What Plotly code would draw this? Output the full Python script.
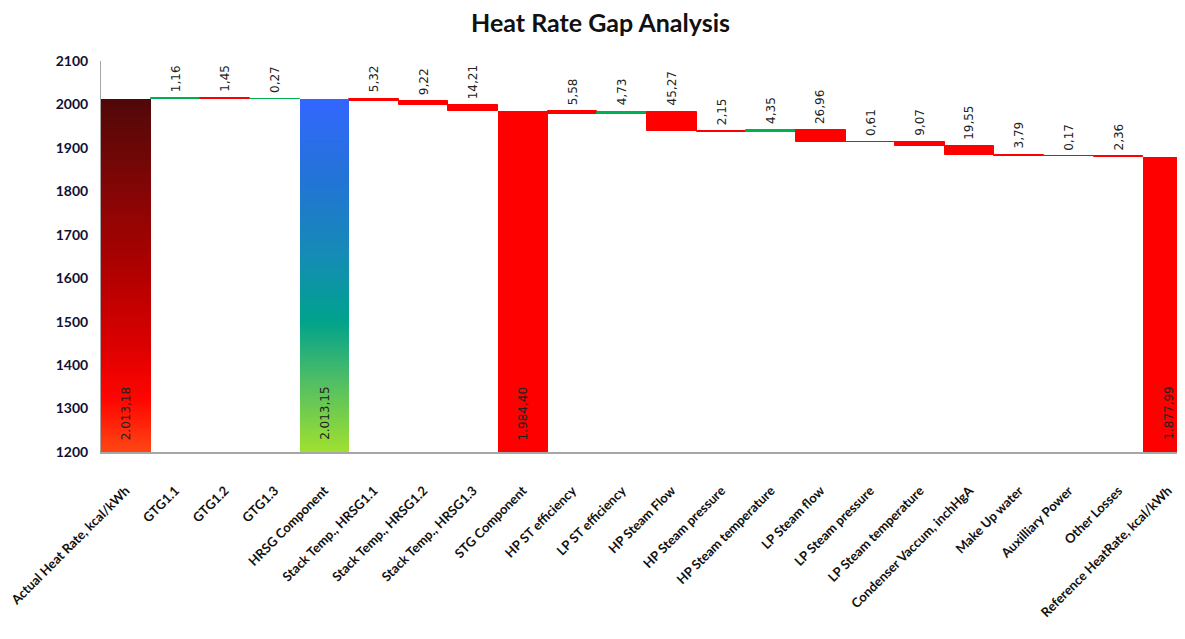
import plotly.graph_objects as go

categories = ["Actual Heat Rate, kcal/kWh", "GTG1.1", "GTG1.2", "GTG1.3", "HRSG Component",
              "Stack Temp., HRSG1.1", "Stack Temp., HRSG1.2", "Stack Temp., HRSG1.3", "STG Component",
              "HP ST efficiency", "LP ST efficiency", "HP Steam Flow", "HP Steam pressure",
              "HP Steam temperature", "LP Steam flow", "LP Steam pressure", "LP Steam temperature",
              "Condenser Vaccum, inchHgA", "Make Up water", "Auxilliary Power", "Other Losses",
              "Reference HeatRate, kcal/kWh"]
# signed change per step (+ increase drawn green, - decrease drawn red); None = total bar
changes = [None, 1.16, -1.45, 0.27, None, -5.32, -9.22, -14.21, None,
           -5.58, 4.73, -45.27, -2.15, 4.35, -26.96, -0.61, -9.07, -19.55, -3.79, -0.17, -2.36, None]
totals = {0: 2013.18, 4: 2013.15, 8: 1984.40, 21: 1877.99}
labels = ["2.013,18", "1,16", "1,45", "0,27", "2.013,15", "5,32", "9,22", "14,21", "1.984,40",
          "5,58", "4,73", "45,27", "2,15", "4,35", "26,96", "0,61", "9,07", "19,55", "3,79",
          "0,17", "2,36", "1.877,99"]

# gradient stops (fraction from bottom, colour)
grad_actual = [(0.0, (255, 70, 20)), (0.15, (255, 5, 0)), (0.3, (220, 0, 0)),
               (0.5, (178, 0, 0)), (0.75, (130, 6, 6)), (1.0, (80, 8, 8))]
grad_hrsg = [(0.0, (160, 224, 48)), (0.2, (80, 190, 100)), (0.37, (0, 162, 140)),
             (0.55, (20, 140, 180)), (0.78, (35, 115, 215)), (1.0, (51, 102, 255))]
gradients = {0: grad_actual, 4: grad_hrsg}

AX_MIN, AX_MAX = 1200, 2100
RED, GREEN = "#ff0000", "#00b050"


def interp(stops, t):
    for (t0, c0), (t1, c1) in zip(stops[:-1], stops[1:]):
        if t0 <= t <= t1:
            f = (t - t0) / (t1 - t0) if t1 > t0 else 0
            return "rgb(%d,%d,%d)" % tuple(round(a + (b - a) * f) for a, b in zip(c0, c1))
    return "rgb(%d,%d,%d)" % stops[-1][1]


fig = go.Figure()

# step bars
level = None
sx, sbase, sh, scol, tops = [], [], [], [], {}
for i, (cat, ch) in enumerate(zip(categories, changes)):
    if ch is None:
        level = totals[i]
        tops[i] = level
        continue
    new = level + ch
    sx.append(cat)
    sbase.append(min(level, new))
    sh.append(abs(ch))
    scol.append(GREEN if ch > 0 else RED)
    tops[i] = max(level, new)
    level = new

fig.add_trace(go.Bar(x=sx, y=sh, base=sbase, marker=dict(color=scol, line=dict(color=scol, width=1)),
                     hoverinfo="skip", showlegend=False))

# total bars
for i, val in totals.items():
    cat = categories[i]
    if i in gradients:
        n = 120
        xs, bs, hs, cs = [], [], [], []
        for k in range(n):
            b = AX_MIN + (val - AX_MIN) * k / n
            xs.append(cat)
            bs.append(b)
            hs.append(val - b)
            cs.append(interp(gradients[i], (k + 0.5) / n))
        fig.add_trace(go.Bar(x=xs, y=hs, base=bs, marker=dict(color=cs, line=dict(width=0)),
                             hoverinfo="skip", showlegend=False))
    else:
        fig.add_trace(go.Bar(x=[cat], y=[val - AX_MIN], base=[AX_MIN],
                             marker=dict(color=RED, line=dict(color=RED, width=0)),
                             hoverinfo="skip", showlegend=False))

# value labels
for i, cat in enumerate(categories):
    if i in totals:
        fig.add_annotation(x=cat, y=AX_MIN, text=labels[i], textangle=-90, showarrow=False,
                           yanchor="bottom", yshift=10, font=dict(family="DejaVu Sans", size=12, color="#222"))
    else:
        fig.add_annotation(x=cat, y=tops[i], text=labels[i], textangle=-90, showarrow=False,
                           yanchor="bottom", yshift=4, font=dict(family="DejaVu Sans", size=12, color="#222"))

fig.update_layout(
    width=1185, height=639,
    margin=dict(l=93, r=0, t=53, b=195),
    plot_bgcolor="white", paper_bgcolor="white",
    barmode="overlay", bargap=0,
    title=dict(text="<b>Heat Rate Gap Analysis</b>", x=0.5, xanchor="center", y=0.99, yanchor="top",
               font=dict(family="Lato", size=25, color="#111")),
    xaxis=dict(categoryorder="array", categoryarray=categories, tickangle=-45, automargin=False,
               tickfont=dict(family="Lato", size=13, color="#111", weight="bold"),
               ticklabelstandoff=24,
               showline=True, linecolor="#a6a6a6", linewidth=2, ticks="", showgrid=False),
    yaxis=dict(range=[AX_MIN, AX_MAX], tickvals=list(range(1200, 2101, 100)), automargin=False,
               tickfont=dict(family="Lato", size=14, color="#111133", weight="bold"),
               ticklabelstandoff=9,
               showline=True, linecolor="#a6a6a6", linewidth=1, ticks="", showgrid=False,
               zeroline=False),
)

fig.write_html("out.html")
